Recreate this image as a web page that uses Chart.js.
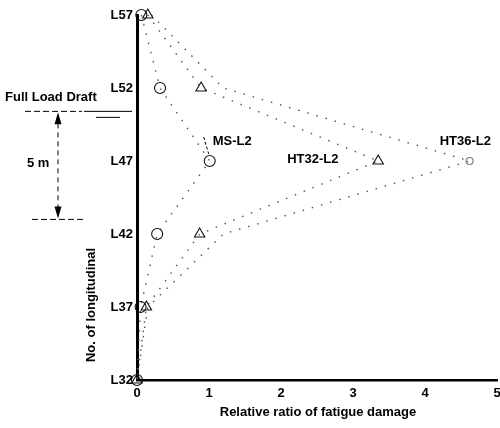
<!DOCTYPE html>
<html>
<head>
<meta charset="utf-8">
<script src="https://cdn.jsdelivr.net/npm/chart.js@4"></script>
<style>
  html, body { margin: 0; padding: 0; background: #fff; }
  #wrap { width: 500px; height: 428px; }
</style>
</head>
<body>
<div id="wrap"><canvas id="c" width="500" height="428"></canvas></div>
<script>
// ---- data ----
const longitudinals = [57, 52, 47, 42, 37, 32];
const yTickValues = [32, 37, 42, 47, 52, 57];
const yTickLabels = ['L32', 'L37', 'L42', 'L47', 'L52', 'L57'];
const xTickLabels = ['0', '1', '2', '3', '4', '5'];
const seriesNames = ['MS-L2', 'HT32-L2', 'HT36-L2'];
const msL2   = [0.06, 0.32, 1.01, 0.28, 0.05, 0.0];
const ht32L2 = [0.15, 0.89, 3.35, 0.87, 0.13, 0.0];
const ht36L2 = [0.20, 1.20, 4.62, 1.20, 0.15, 0.0];
const axisTitleX = 'Relative ratio of fatigue damage';
const axisTitleY = 'No. of longitudinal';
const draftLabel = 'Full Load Draft';
const depthLabel = '5 m';
const draftLevel = 50.4;   // longitudinal position of the full-load draft line
const lowLevel = 43.0;     // 5 m below the draft

const FONT = '"Liberation Sans", Arial, sans-serif';

function toPoints(xs) {
  return xs.map((v, i) => ({ x: v, y: longitudinals[i] }));
}

const annotations = {
  id: 'annotations',
  afterDraw(chart) {
    const ctx = chart.ctx;
    const xs = chart.scales.x, ys = chart.scales.y;
    const area = chart.chartArea;
    ctx.save();
    ctx.fillStyle = '#000';
    ctx.strokeStyle = '#000';
    ctx.font = 'bold 13px ' + FONT;
    ctx.textBaseline = 'middle';

    const dY = ys.getPixelForValue(draftLevel);
    const lY = ys.getPixelForValue(lowLevel);

    // Full load draft label & line
    ctx.textAlign = 'left';
    ctx.fillText(draftLabel, 5, dY - 14);
    ctx.lineWidth = 1;
    ctx.setLineDash([6, 3]);
    ctx.beginPath(); ctx.moveTo(25, dY); ctx.lineTo(82, dY); ctx.stroke();
    ctx.setLineDash([]);
    ctx.beginPath(); ctx.moveTo(84, dY); ctx.lineTo(132, dY); ctx.stroke();
    ctx.beginPath(); ctx.moveTo(96, dY + 6); ctx.lineTo(120, dY + 6); ctx.stroke();

    // 5 m dimension arrow
    const ax = 58;
    ctx.setLineDash([5, 4]);
    ctx.beginPath(); ctx.moveTo(ax, dY + 12); ctx.lineTo(ax, lY - 12); ctx.stroke();
    ctx.setLineDash([]);
    ctx.beginPath();
    ctx.moveTo(ax, dY + 1); ctx.lineTo(ax - 3.5, dY + 13); ctx.lineTo(ax + 3.5, dY + 13); ctx.closePath(); ctx.fill();
    ctx.beginPath();
    ctx.moveTo(ax, lY - 1); ctx.lineTo(ax - 3.5, lY - 13); ctx.lineTo(ax + 3.5, lY - 13); ctx.closePath(); ctx.fill();
    ctx.setLineDash([6, 3]);
    ctx.beginPath(); ctx.moveTo(32, lY); ctx.lineTo(86, lY); ctx.stroke();
    ctx.setLineDash([]);
    ctx.fillText(depthLabel, 27, (dY + lY) / 2 - 2);

    // series labels
    const pMS = { x: xs.getPixelForValue(msL2[2]), y: ys.getPixelForValue(longitudinals[2]) };
    const p32 = { x: xs.getPixelForValue(ht32L2[2]), y: ys.getPixelForValue(longitudinals[2]) };
    const p36 = { x: xs.getPixelForValue(ht36L2[2]), y: ys.getPixelForValue(longitudinals[2]) };
    ctx.lineWidth = 1;
    ctx.setLineDash([3, 2]);
    ctx.beginPath(); ctx.moveTo(pMS.x - 6, pMS.y - 24); ctx.lineTo(pMS.x - 1, pMS.y - 7); ctx.stroke();
    ctx.setLineDash([]);
    ctx.fillText(seriesNames[0], pMS.x + 3, pMS.y - 20);
    ctx.fillText(seriesNames[1], p32.x - 91, p32.y - 2);
    ctx.fillText(seriesNames[2], p36.x - 30, p36.y - 20);

    // axis titles
    ctx.textAlign = 'center';
    ctx.fillText(axisTitleX, (area.left + area.right) / 2 + 1, 412);
    ctx.save();
    ctx.translate(91, 305);
    ctx.rotate(-Math.PI / 2);
    ctx.fillText(axisTitleY, 0, 0);
    ctx.restore();

    ctx.restore();
  }
};

const lineCommon = {
  showLine: true,
  borderColor: '#555',
  borderWidth: 1.4,
  borderDash: [1.5, 8],
  backgroundColor: '#fff',
  pointBorderColor: '#111',
  pointBackgroundColor: 'rgba(255,255,255,0)',
  pointBorderWidth: 1.1,
  tension: 0,
  clip: false
};

new Chart(document.getElementById('c'), {
  type: 'scatter',
  data: {
    datasets: [
      Object.assign({}, lineCommon, {
        label: seriesNames[0],
        data: toPoints(msL2),
        pointStyle: 'circle',
        pointRadius: 5.5
      }),
      Object.assign({}, lineCommon, {
        label: seriesNames[1],
        data: toPoints(ht32L2),
        pointStyle: 'triangle',
        pointRadius: 6
      }),
      Object.assign({}, lineCommon, {
        label: seriesNames[2],
        data: toPoints(ht36L2),
        pointStyle: 'circle',
        pointBorderColor: '#777',
        pointRadius: (c) => (c.dataIndex === 2 ? 3.5 : 0)
      })
    ]
  },
  options: {
    responsive: false,
    animation: false,
    events: [],
    layout: { autoPadding: false, padding: { left: 0, right: 3, top: 15, bottom: 0 } },
    plugins: { legend: { display: false }, tooltip: { enabled: false } },
    scales: {
      x: {
        type: 'linear',
        min: 0, max: 5,
        afterFit(s) { s.height = 48; },
        afterBuildTicks(s) { s.ticks = xTickLabels.map(Number).map(v => ({ value: v })); },
        ticks: {
          color: '#000',
          padding: -2,
          maxRotation: 0,
          font: { family: FONT, size: 13, weight: 'bold' },
          callback: (v) => xTickLabels[Math.round(v)]
        },
        grid: { display: false },
        border: { display: true, color: '#000', width: 2.5 }
      },
      y: {
        type: 'linear',
        min: 32, max: 57,
        afterFit(s) { s.width = 137; },
        afterBuildTicks(s) { s.ticks = yTickValues.map(v => ({ value: v })); },
        ticks: {
          color: '#000',
          padding: -4,
          font: { family: FONT, size: 13, weight: 'bold' },
          callback: (v) => yTickLabels[yTickValues.indexOf(v)]
        },
        grid: { display: false },
        border: { display: true, color: '#000', width: 3 }
      }
    }
  },
  plugins: [annotations]
});
</script>
</body>
</html>
